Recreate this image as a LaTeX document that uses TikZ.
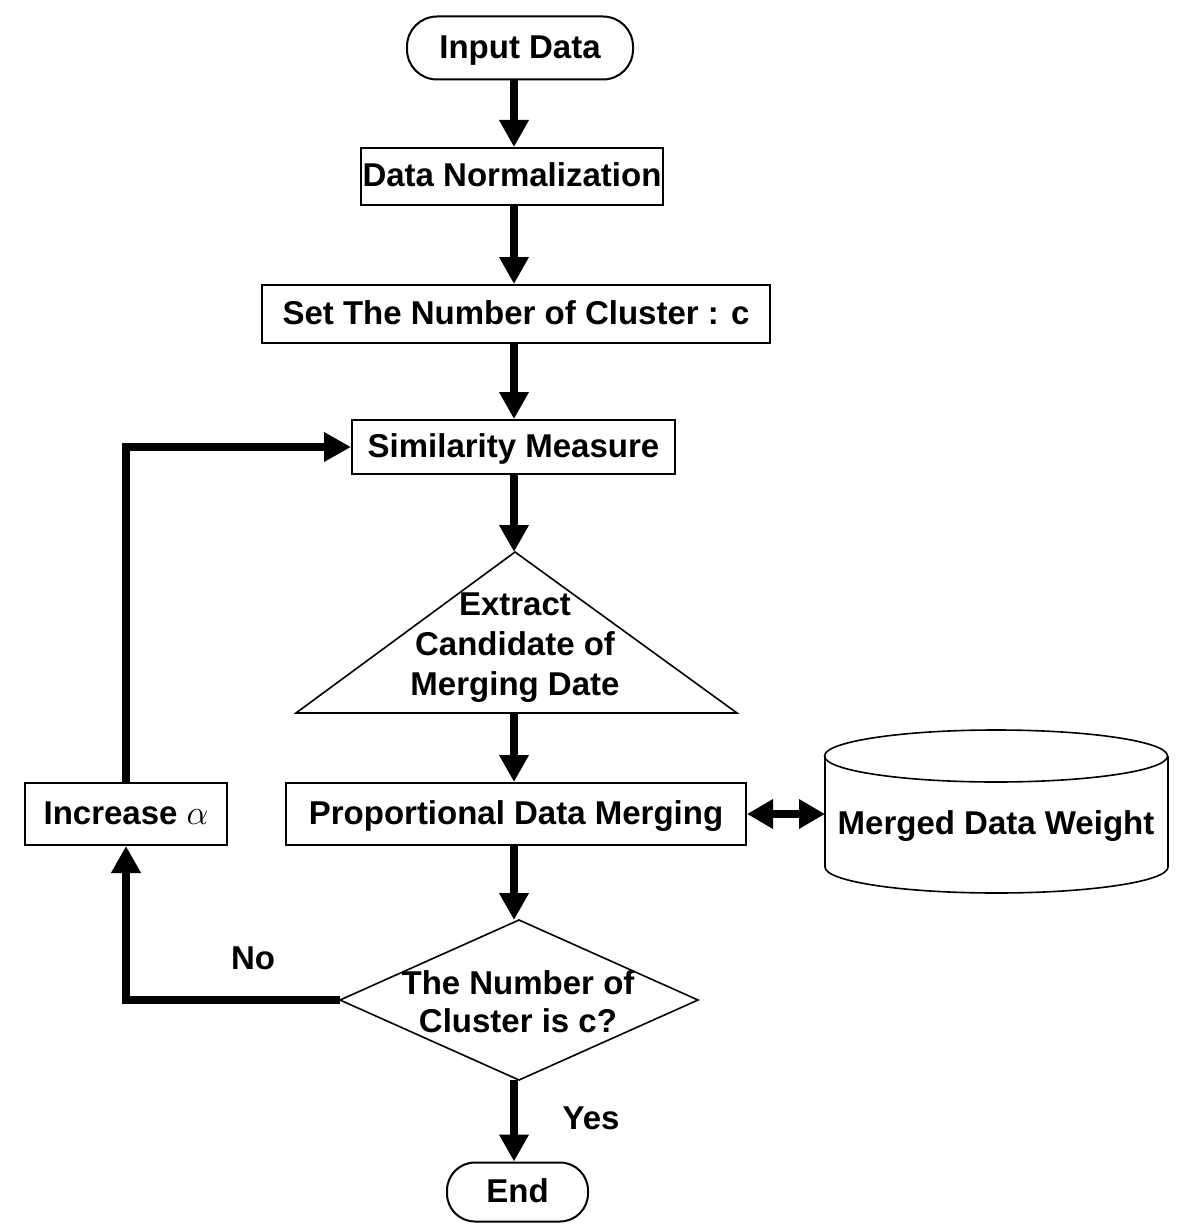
\documentclass[tikz,border=0pt]{standalone}
\usepackage{fontspec}
\setmainfont{Liberation Sans}
\usetikzlibrary{arrows.meta}
\begin{document}
\begin{tikzpicture}[x=0.5pt,y=-0.5pt,
  font=\fontsize{16.5pt}{20pt}\selectfont\bfseries,
  box/.style={draw,line width=1pt,inner sep=0pt,align=center,text height=12pt,text depth=1.5pt},
  term/.style={box,rounded corners=15pt},
  lbl/.style={inner sep=0pt,align=center},
  arr/.style={line width=4pt,-{Triangle[length=13.5pt,width=14pt]}},
  darr/.style={line width=4pt,{Triangle[length=13pt,width=14pt]}-{Triangle[length=13pt,width=14pt]}},
  thinline/.style={line width=0.8pt}]
\useasboundingbox (0,0) rectangle (1180,1225);
\coordinate (col) at (514,0);
% nodes
\node[term,minimum width=113pt,minimum height=31.5pt] (in) at (520,48) {Input Data};
\node[box,minimum width=151pt,minimum height=28.5pt] (norm) at (512,176.5) {Data Normalization};
\node[box,minimum width=254pt,minimum height=29pt] (set) at (516,314) {Set The Number of Cluster : c};
\node[box,minimum width=161.5pt,minimum height=27pt] (sim) at (513.5,447) {Similarity Measure};
% triangle
\coordinate (tri-top) at (515,552);
\coordinate (tri-l) at (296,713);
\coordinate (tri-r) at (737,713);
\draw[thinline] (tri-top) -- (tri-r) -- (tri-l) -- cycle;
\node[lbl] (tri) at (515,648) {Extract\\Candidate of\\Merging Date};
\node[box,minimum width=230pt,minimum height=31pt] (prop) at (516,814) {Proportional Data Merging};
\node[box,minimum width=101pt,minimum height=31pt] (inc) at (126,814) {Increase $\alpha$};
% cylinder
\coordinate (cyl-l) at (825,814);
\draw[thinline] (996,756) ellipse [x radius=85.75pt, y radius=13pt];
\draw[thinline] (825,756) -- (825,867) arc[start angle=180,end angle=360,x radius=85.75pt,y radius=13pt] -- (1168,756);
\node[lbl] (cyl) at (996,826) {Merged Data Weight};
% diamond
\coordinate (d-t) at (519,920);
\coordinate (d-b) at (519,1080);
\coordinate (d-l) at (340,1000);
\coordinate (d-r) at (698,1000);
\draw[thinline] (d-t) -- (d-r) -- (d-b) -- (d-l) -- cycle;
\node[lbl,font=\fontsize{16.5pt}{19pt}\selectfont\bfseries] (dec) at (518,1002) {The Number of\\Cluster is c?};
\node[term,minimum width=70.5pt,minimum height=29.5pt,rounded corners=14pt] (end) at (517.5,1192) {End};
% labels
\node[lbl] (no) at (253,958) {No};
\node[lbl] (yes) at (591,1118) {Yes};
% connectors
\draw[arr] (in.south -| col) -- (norm.north -| col);
\draw[arr] (norm.south -| col) -- (set.north -| col);
\draw[arr] (set.south -| col) -- (sim.north -| col);
\draw[arr] (sim.south -| col) -- (tri-top -| col);
\draw[arr] (tri-l -| col) -- (prop.north -| col);
\draw[arr] (prop.south -| col) -- (d-t -| col);
\draw[arr] (d-b -| col) -- (end.north -| col);
\draw[arr] (d-l) -| (inc.south);
\draw[arr] (inc.north) |- (sim.west);
\draw[darr] (prop.east) -- (prop.east -| cyl-l);
\end{tikzpicture}
\end{document}
